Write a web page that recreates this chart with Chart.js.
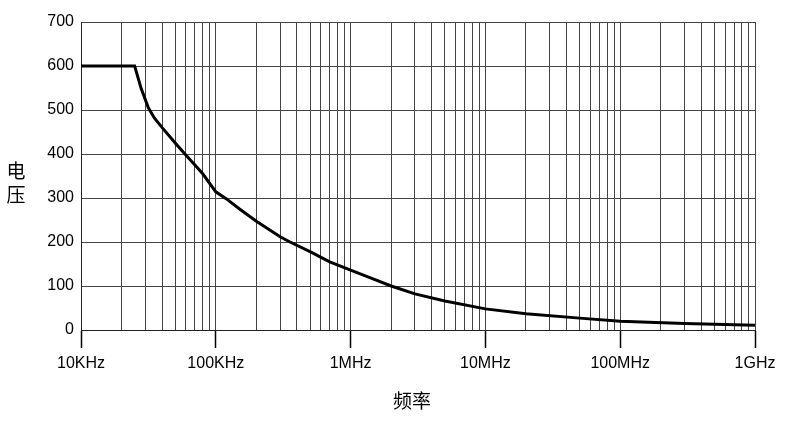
<!DOCTYPE html>
<html><head><meta charset="utf-8">
<script src="https://cdn.jsdelivr.net/npm/chart.js@4"></script>
<style>html,body{margin:0;padding:0;background:#fff}#wrap{width:800px;height:433px}</style>
</head><body><div id="wrap"><canvas id="c"></canvas></div>
<script>
// frequency (Hz) and voltage
const freqs = [1e4, 2.5e4, 2.8e4, 3.16e4, 3.5e4, 4e4, 5e4, 5.9e4, 7e4, 8e4, 1e5, 1.2e5, 1.5e5, 2e5, 3e5, 3.55e5, 5e5, 7e5, 1e6, 1.5e6, 2e6, 3e6, 5e6, 1e7, 2e7, 5e7, 1e8, 3e8, 1e9];
const volts = [600, 600, 548, 505, 482, 460, 425, 400, 375, 355, 314, 298, 275, 247, 212, 200, 178, 155, 136, 115, 100, 82, 66, 48, 37, 27, 20, 15, 11];
const decadeLabels = {1e4:'10KHz',1e5:'100KHz',1e6:'1MHz',1e7:'10MHz',1e8:'100MHz',1e9:'1GHz'};
const yTicks = [0,100,200,300,400,500,600,700];
const font = 'Liberation Sans, Arial, sans-serif';

const isDecade = v => Math.abs(Math.log10(v) - Math.round(Math.log10(v))) < 1e-6;

const titles = {
  id: 'titles',
  afterDraw(chart){
    const ctx = chart.ctx;
    ctx.save();
    ctx.fillStyle = '#000';
    ctx.font = '19px "Noto Sans CJK SC"';
    ctx.textAlign = 'center';
    ctx.textBaseline = 'middle';
    ctx.fillText('电', 16, 171);
    ctx.fillText('压', 16, 195);
    ctx.fillText('频率', 412, 401);
    ctx.restore();
  }
};

new Chart(document.getElementById('c'), {
  type: 'line',
  data: { datasets: [{ data: freqs.map((f,i)=>({x:f,y:volts[i]})), borderColor:'#000', borderWidth:3, pointRadius:0, tension:0, fill:false }] },
  options: {
    responsive:true, maintainAspectRatio:false, animation:false,
    layout:{ padding:{ left:0, right:45, top:22, bottom:0 } },
    plugins:{ legend:{display:false}, tooltip:{enabled:false} },
    scales:{
      x:{
        type:'logarithmic', min:1e4, max:1e9,
        afterBuildTicks(s){
          const t=[];
          for(let d=4; d<9; d++) for(let m=1;m<10;m++) t.push({value:m*Math.pow(10,d)});
          t.push({value:1e9});
          s.ticks=t;
        },
        afterFit(s){ s.height = 103; },
        border:{ color:'#222', width:1 },
        grid:{ color:'#444', lineWidth:1, tickLength:18,
          tickColor: c => isDecade(c.tick.value) ? '#000' : 'rgba(0,0,0,0)',
          tickWidth:1.5 },
        ticks:{ autoSkip:false, maxRotation:0, color:'#000', font:{family:font,size:16}, padding:6,
          callback: v => decadeLabels[v] || '' }
      },
      y:{
        min:0, max:700,
        afterBuildTicks(s){ s.ticks = yTicks.map(v=>({value:v})); },
        afterFit(s){ s.width = 81; },
        border:{ color:'#222', width:1 },
        grid:{ color:'#444', lineWidth:1, drawTicks:false },
        ticks:{ color:'#000', font:{family:font,size:16}, padding:7 }
      }
    }
  },
  plugins:[titles]
});
</script></body></html>
